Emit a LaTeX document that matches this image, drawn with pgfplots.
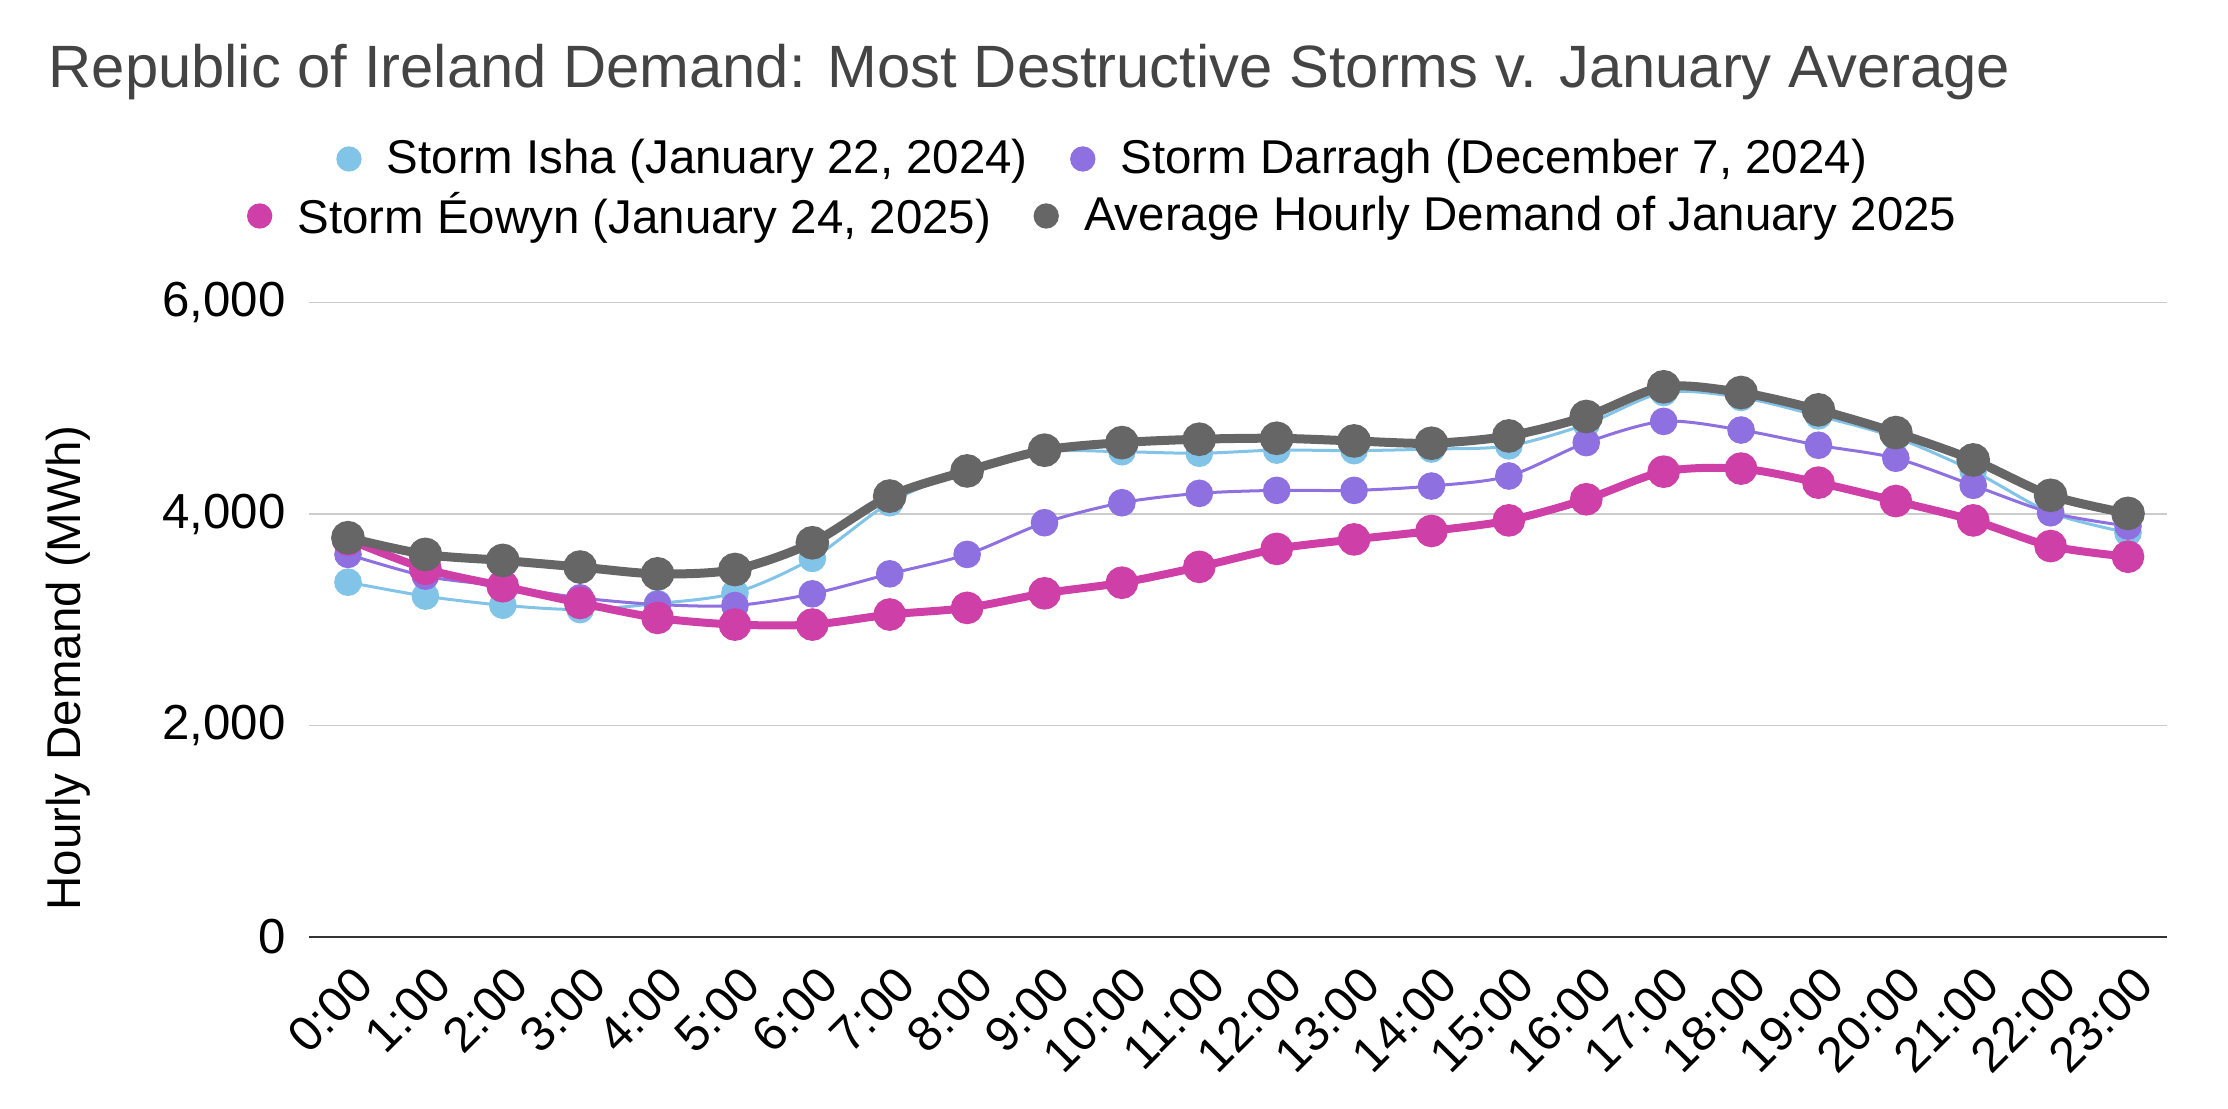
\documentclass[border=0pt]{standalone}
\usepackage{fontspec}
\setmainfont{Liberation Sans}
\usepackage{pgfplots}
\pgfplotsset{compat=1.18}

\definecolor{isha}{RGB}{130,195,232}
\definecolor{darragh}{RGB}{142,112,224}
\definecolor{eowyn}{RGB}{206,64,168}
\definecolor{avg}{RGB}{102,102,102}
\definecolor{titlegray}{RGB}{68,68,68}
\definecolor{gridgray}{RGB}{204,204,204}
\definecolor{axisdark}{RGB}{51,51,51}

% hourly demand, MWh
\pgfplotstableread{
h  isha  darragh eowyn avg
0  3355  3618    3760  3776
1  3223  3412    3482  3618
2  3137  3317    3317  3561
3  3096  3207    3159  3498
4  3153  3144    3017  3434
5  3254  3134    2954  3475
6  3580  3245    2954  3728
7  4107  3434    3049  4170
8  4420  3618    3112  4408
9  4590  3918    3250  4604
10 4590  4107    3350  4676
11 4575  4196    3500  4708
12 4605  4224    3670  4717
13 4600  4224    3760  4692
14 4615  4265    3840  4670
15 4645  4360    3940  4739
16 4850  4676    4140  4923
17 5150  4877    4401  5204
18 5103  4795    4430  5150
19 4929  4651    4297  4986
20 4724  4528    4123  4771
21 4408  4272    3940  4512
22 4013  4013    3697  4177
23 3823  3886    3596  4006
}\demand

\pgfplotsset{
    common/.style={
        scale only axis,
        width=185.74mm,
        height=63.4mm,
        at={(30.93mm,17.13mm)},
        anchor=south west,
        xmin=-0.5, xmax=23.5,
        ymin=0, ymax=6000,
    },
    legrow/.style={
        legend columns=-1,
        legend style={
            draw=none, fill=none,
            anchor=center,
            font=\fontsize{13.5}{16}\selectfont,
            /tikz/every even column/.append style={column sep=3.6mm},
            /tikz/every odd column/.append style={column sep=1.9mm},
        },
        legend image code/.code={\draw[##1] plot coordinates {(1.2mm,0cm)};},
    },
}

\begin{document}
\begin{tikzpicture}
\useasboundingbox (0,0) rectangle (222.8mm,110.8mm);

\begin{axis}[
    common,
    legrow,
    legend style={at={(0.4287,1.1368)}},
    axis x line*=bottom,
    axis y line*=left,
    y axis line style={draw=none},
    x axis line style={draw=axisdark, line width=0.2mm},
    tick style={draw=none},
    ymajorgrids,
    major grid style={draw=gridgray, line width=0.15mm},
    ytick={0,2000,4000,6000},
    scaled y ticks=false,
    /pgf/number format/assume math mode=true,
    /pgf/number format/1000 sep={,},
    xtick={0,...,23},
    xticklabels={0:00,1:00,2:00,3:00,4:00,5:00,6:00,7:00,8:00,9:00,10:00,11:00,12:00,13:00,14:00,15:00,16:00,17:00,18:00,19:00,20:00,21:00,22:00,23:00},
    yticklabel style={font=\fontsize{14}{16}\selectfont, anchor=east, inner sep=0pt, xshift=-2.3mm},
    xticklabel style={font=\fontsize{14}{16}\selectfont, anchor=east, inner sep=0pt, xshift=1.68mm, yshift=-3.88mm, rotate=45},
    ylabel={Hourly Demand (MWh)},
    every axis y label/.style={at={(-0.1299,0.4238)}, rotate=90, anchor=center,
        font=\fontsize{13.5}{16}\selectfont},
    title={Republic of Ireland Demand: Most Destructive Storms v. January Average},
    every axis title/.style={at={(-0.1407,1.3397)}, anchor=base west,
        font=\fontsize{17}{20}\selectfont, text=titlegray, inner sep=0pt},
]
\addplot[forget plot, smooth, color=isha, line width=0.3mm, mark=*, mark size=3.5pt] table[x=h, y=isha] {\demand};
\addplot[forget plot, smooth, color=darragh, line width=0.3mm, mark=*, mark size=3.5pt] table[x=h, y=darragh] {\demand};
\addplot[forget plot, smooth, color=eowyn, line width=0.8mm, mark=*, mark size=3.5pt] table[x=h, y=eowyn] {\demand};
\addplot[forget plot, smooth, color=avg, line width=0.9mm, mark=*, mark size=3.5pt] table[x=h, y=avg] {\demand};
\addlegendimage{only marks, mark=*, mark size=3.4pt, color=eowyn}
\addlegendimage{only marks, mark=*, mark size=3.4pt, color=avg}
\legend{{Storm Éowyn (January 24, 2025)}, {Average Hourly Demand of January 2025}}
\end{axis}

\begin{axis}[
    common,
    legrow,
    legend style={at={(0.4287,1.2267)}},
    hide axis,
]
\addlegendimage{only marks, mark=*, mark size=3.4pt, color=isha}
\addlegendimage{only marks, mark=*, mark size=3.4pt, color=darragh}
\legend{{Storm Isha (January 22, 2024)}, {Storm Darragh (December 7, 2024)}}
\end{axis}
\end{tikzpicture}
\end{document}
